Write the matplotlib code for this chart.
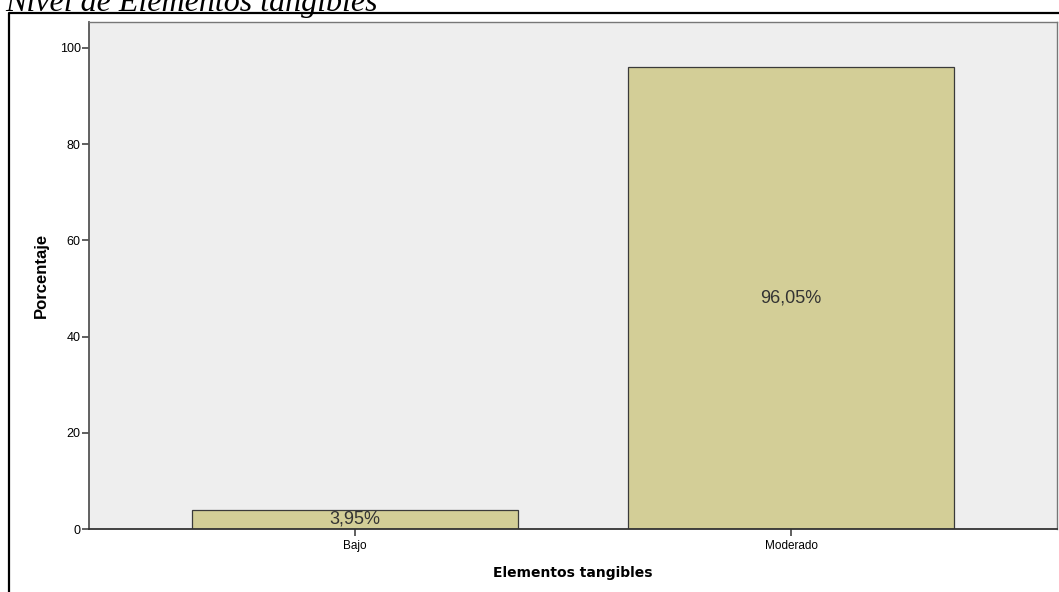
import matplotlib
matplotlib.use("Agg")
import matplotlib.pyplot as plt
from matplotlib.lines import Line2D

categories = ['Bajo', 'Moderado']
percentages = [3.95, 96.05]
bar_labels = ['3,95%', '96,05%']
y_ticks = [0, 20, 40, 60, 80, 100]

W, H = 1059, 592
fig = plt.figure(figsize=(W / 100, H / 100), dpi=100)
fig.patch.set_facecolor('white')

# caption cut off at the top of the image
fig.text(5 / W, 1 - 11 / H, 'Nivel de Elementos tangibles', family='Liberation Serif',
         style='italic', fontsize=23, va='baseline', ha='left', color='black')

# outer black frame (only left and top visible)
fig.add_artist(Line2D([9 / W, 9 / W, 1.01], [-0.01, 1 - 13 / H, 1 - 13 / H],
                      transform=fig.transFigure, color='black', lw=1.6))

left, right, top, bottom = 89, 1057, 22, 529
ax = fig.add_axes([left / W, 1 - bottom / H, (right - left) / W, (bottom - top) / H])
ax.set_facecolor('#EEEEEE')

x = list(range(len(categories)))
bars = ax.bar(x, percentages, width=0.748, color='#D3CE97', edgecolor='#3A3A3A', linewidth=0.9)

for b, lab in zip(bars, bar_labels):
    ax.text(b.get_x() + b.get_width() / 2, b.get_height() / 2, lab, ha='center', va='center',
            fontsize=13, family='Liberation Sans', color='#333333')

ax.set_xlim(-0.61, 1.61)
ax.set_ylim(0, 105.4)
ax.set_xticks(x)
ax.set_xticklabels(categories, family='Liberation Sans', fontsize=8.5)
ax.set_yticks(y_ticks)
ax.set_yticklabels([str(v) for v in y_ticks], family='Liberation Sans', fontsize=9)
ax.tick_params(axis='both', length=5, width=1.2, color='#444444')
ax.tick_params(axis='x', pad=3)
ax.tick_params(axis='y', pad=1)

for s in ax.spines.values():
    s.set_color('#777777')
    s.set_linewidth(1.0)
ax.spines['left'].set_color('#555555')
ax.spines['bottom'].set_color('#333333')
ax.spines['left'].set_linewidth(1.3)
ax.spines['bottom'].set_linewidth(1.3)

ax.set_ylabel('Porcentaje', family='Liberation Sans', fontweight='bold', fontsize=12, labelpad=8)
ax.set_xlabel('Elementos tangibles', family='DejaVu Sans', fontweight='bold', fontsize=10, labelpad=10)

fig.savefig('out.png', dpi=100)
